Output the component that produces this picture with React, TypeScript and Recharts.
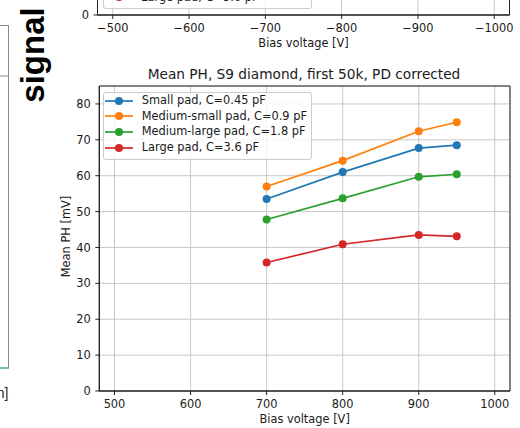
import React from 'react';
import {
  LineChart,
  Line,
  XAxis,
  YAxis,
  CartesianGrid,
  Legend,
  ReferenceArea,
} from 'recharts';

// values
const voltages = [700, 800, 900, 950];
const smallPad = [53.5, 61.0, 67.7, 68.5];
const mediumSmallPad = [57.0, 64.2, 72.4, 74.9];
const mediumLargePad = [47.8, 53.7, 59.7, 60.4];
const largePad = [35.8, 40.9, 43.5, 43.1];

const seriesKeys = ['small', 'mediumSmall', 'mediumLarge', 'large'];
const seriesNames = [
  'Small pad, C=0.45 pF',
  'Medium-small pad, C=0.9 pF',
  'Medium-large pad, C=1.8 pF',
  'Large pad, C=3.6 pF',
];
const seriesColors = ['#1f77b4', '#ff7f0e', '#2ca02c', '#d62728'];

const xTicks = [500, 600, 700, 800, 900, 1000];
const topXTicks = [-500, -600, -700, -800, -900, -1000];
const yTicks = [0, 10, 20, 30, 40, 50, 60, 70, 80];
const topYTicks = [0];

const rows = voltages.map((v, i) => ({
  voltage: v,
  small: smallPad[i],
  mediumSmall: mediumSmallPad[i],
  mediumLarge: mediumLargePad[i],
  large: largePad[i],
}));

// the upper (cut off) panel only shows its axis, so it gets tick positions only
const topRows = topXTicks.map((v) => ({ voltage: v }));

const FONT = '"DejaVu Sans", sans-serif';
const TEXT = '#1a1a1a';
const ROW_H = 15.8;
const tickStyle = { fontSize: 11.4, fill: TEXT, fontFamily: FONT };

const minusFormat = (v: number) => (v < 0 ? `\u2212${-v}` : String(v));

// matplotlib-like legend box; `first` skips rows that sit outside the picture
const LegendBox = ({ first = 0 }: { first?: number }) => (
  <div
    style={{
      width: 209,
      height: 68,
      boxSizing: 'border-box',
      border: '1px solid #cccccc',
      borderRadius: 3,
      background: 'rgba(255,255,255,0.8)',
      fontFamily: FONT,
      paddingTop: first * ROW_H,
    }}
  >
    {seriesNames.slice(first).map((name, j) => {
      const i = j + first;
      return (
        <div key={name} style={{ display: 'flex', alignItems: 'center', height: ROW_H }}>
          <svg width={28} height={10} style={{ marginLeft: 1, flex: 'none' }}>
            <line x1={0} y1={5} x2={28} y2={5} stroke={seriesColors[i]} strokeWidth={1.7} />
            <circle cx={14} cy={5} r={4} fill={seriesColors[i]} />
          </svg>
          <span style={{ marginLeft: 8.4, fontSize: 11.4, lineHeight: 1, whiteSpace: 'nowrap', color: TEXT }}>
            {name}
          </span>
        </div>
      );
    })}
  </div>
);

// eslint-disable-next-line @typescript-eslint/no-explicit-any
const XLabel = (props: any) => {
  const { viewBox } = props;
  return (
    <text
      x={viewBox.x + viewBox.width / 2}
      y={viewBox.y + 32.3}
      textAnchor="middle"
      fontSize={11.4}
      fill={TEXT}
      fontFamily={FONT}
    >
      Bias voltage [V]
    </text>
  );
};

// eslint-disable-next-line @typescript-eslint/no-explicit-any
const YLabel = (props: any) => {
  const { viewBox } = props;
  const x = viewBox.x + viewBox.width - 29.3;
  const y = viewBox.y + viewBox.height / 2 - 2;
  return (
    <text
      x={x}
      y={y}
      transform={`rotate(-90, ${x}, ${y})`}
      textAnchor="middle"
      fontSize={11.4}
      fill={TEXT}
      fontFamily={FONT}
    >
      Mean PH [mV]
    </text>
  );
};

const App = () => {
  return (
    <div style={{ position: 'absolute', left: 0, top: 0, width: 520, height: 428, overflow: 'hidden', background: '#fff', fontFamily: FONT }}>
      {/* upper panel, only its bottom edge is in view */}
      <div style={{ position: 'absolute', left: 0, top: -310 }}>
        <LineChart width={520} height={362} data={topRows} margin={{ top: 20, right: 10.5, left: 0, bottom: 0 }}>
          <CartesianGrid stroke="#c8c8c8" strokeWidth={1} />
          <XAxis
            dataKey="voltage"
            type="number"
            domain={[-1020, -480]}
            reversed
            allowDataOverflow
            ticks={topXTicks}
            interval={0}
            tickFormatter={minusFormat}
            height={37}
            tickSize={4}
            tickMargin={5}
            tick={tickStyle}
            stroke="#222"
            label={<XLabel />}
          />
          <YAxis
            type="number"
            domain={[0, 85]}
            ticks={topYTicks}
            interval={0}
            allowDataOverflow
            width={97.5}
            tickSize={4}
            tickMargin={4.5}
            tick={tickStyle}
            stroke="#222"
          />
          <ReferenceArea x1={-1020} x2={-480} y1={0} y2={85} fill="none" stroke="#222" strokeWidth={1} fillOpacity={0} />
          <Legend
            layout="vertical"
            align="center"
            verticalAlign="middle"
            content={() => <LegendBox first={3} />}
            wrapperStyle={{ left: 102.7, top: 251, width: 'auto' }}
          />
        </LineChart>
      </div>

      {/* main panel */}
      <div style={{ position: 'absolute', left: 0, top: 0 }}>
        <LineChart width={520} height={428} data={rows} margin={{ top: 86, right: 10, left: 0, bottom: 0 }}>
          <CartesianGrid stroke="#c8c8c8" strokeWidth={1} />
          <XAxis
            dataKey="voltage"
            type="number"
            domain={[480, 1020]}
            allowDataOverflow
            ticks={xTicks}
            interval={0}
            height={37}
            tickSize={4}
            tickMargin={5}
            tick={tickStyle}
            stroke="#222"
            label={<XLabel />}
          />
          <YAxis
            type="number"
            domain={[0, 85]}
            ticks={yTicks}
            interval={0}
            allowDataOverflow
            width={99.3}
            tickSize={4}
            tickMargin={4.5}
            tick={tickStyle}
            stroke="#222"
            label={<YLabel />}
          />
          <ReferenceArea x1={480} x2={1020} y1={0} y2={85} fill="none" stroke="#222" strokeWidth={1} fillOpacity={0} />
          {seriesKeys.map((key, i) => (
            <Line
              key={key}
              dataKey={key}
              name={seriesNames[i]}
              type="linear"
              stroke={seriesColors[i]}
              strokeWidth={1.7}
              dot={{ r: 4, fill: seriesColors[i], stroke: seriesColors[i], strokeWidth: 0 }}
              activeDot={false}
              isAnimationActive={false}
            />
          ))}
          <Legend
            layout="vertical"
            align="center"
            verticalAlign="middle"
            content={() => <LegendBox />}
            wrapperStyle={{ left: 103.3, top: 91.7, width: 'auto' }}
          />
        </LineChart>
      </div>

      {/* surrounding page bits: title, side text and the neighbouring frame */}
      <svg width={520} height={428} style={{ position: 'absolute', left: 0, top: 0, pointerEvents: 'none' }}>
        <text x={304} y={79} textAnchor="middle" fontSize={13.7} fill={TEXT} fontFamily={FONT}>
          Mean PH, S9 diamond, first 50k, PD corrected
        </text>
        <text
          x={44}
          y={55}
          transform="rotate(-90, 44, 55)"
          textAnchor="middle"
          fontSize={33}
          fontWeight="bold"
          fill="#000"
          fontFamily='"Liberation Sans", Arial, sans-serif'
        >
          signal
        </text>
        <line x1={0} y1={25.5} x2={8.5} y2={25.5} stroke="#8a8a8a" strokeWidth={1} />
        <line x1={0} y1={76} x2={8.5} y2={76} stroke="#8a8a8a" strokeWidth={1} />
        <line x1={8.5} y1={25} x2={8.5} y2={368} stroke="#8a8a8a" strokeWidth={1} />
        <line x1={0} y1={368} x2={9} y2={368} stroke="#2b8a96" strokeWidth={1.2} />
        <text x={8.5} y={398} textAnchor="end" fontSize={14} fill="#222" fontFamily='"Liberation Sans", Arial, sans-serif'>
          n]
        </text>
      </svg>
    </div>
  );
};

export default App;
